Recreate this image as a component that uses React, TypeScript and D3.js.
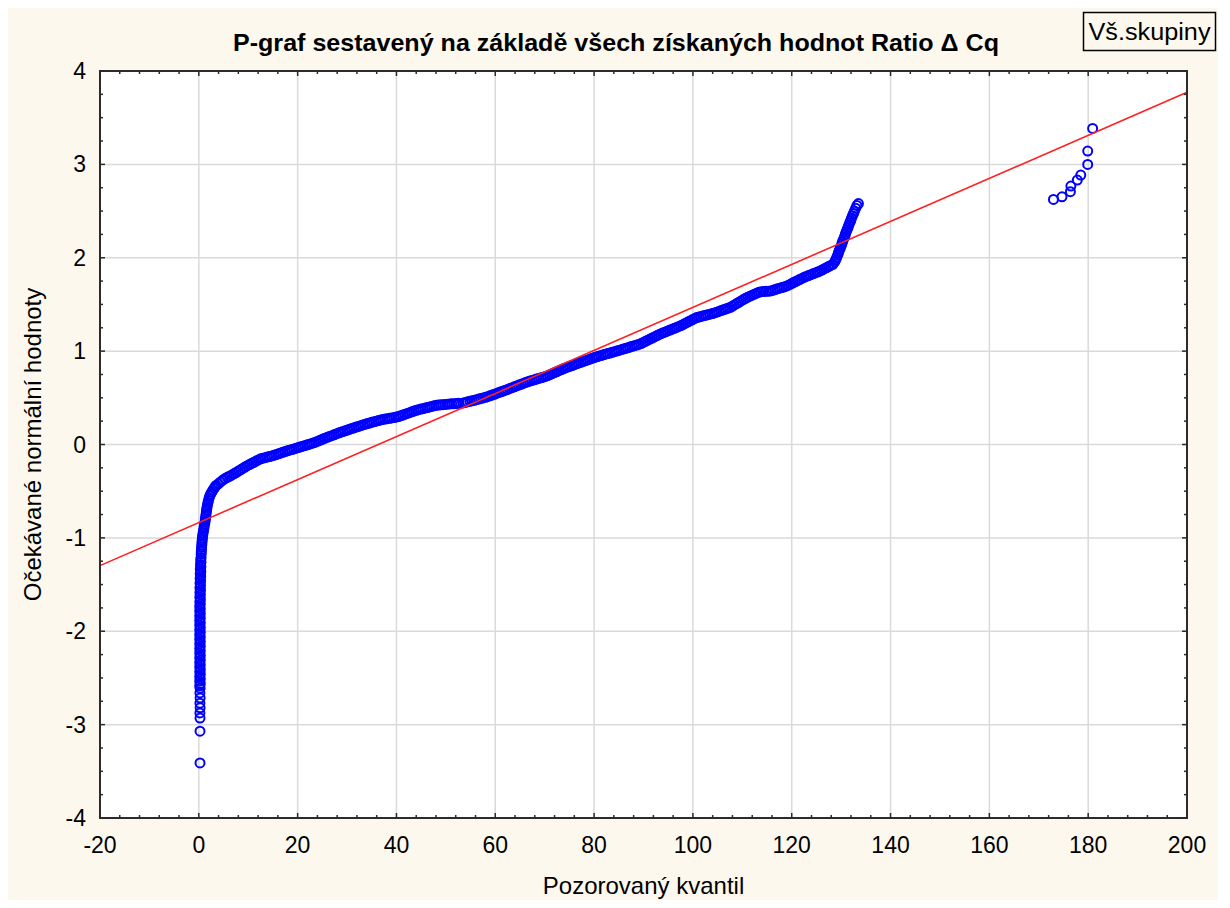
import React from "react";
import * as d3 from "d3";

// Axis ticks
const xTicks = [-20, 0, 20, 40, 60, 80, 100, 120, 140, 160, 180, 200];
const yTicks = [-4, -3, -2, -1, 0, 1, 2, 3, 4];

// Fitted normal line: expected = (observed - fitMean) / fitSd
const fitMean = 36.3;
const fitSd = 43.4;

// [observed quantile, expected normal value]
const lowOutliers: [number, number][] = [
  [0.24, -3.41], [0.24, -3.07],
];

const lowerTail: [number, number][] = [
  [0.24, -2.93], [0.22, -2.875], [0.26, -2.82], [0.22, -2.77], [0.26, -2.715], [0.22, -2.66], [0.26, -2.61],
  [0.18, -2.585], [0.3, -2.56], [0.18, -2.535], [0.3, -2.51], [0.18, -2.485], [0.3, -2.46], [0.18, -2.435],
  [0.3, -2.41], [0.18, -2.385], [0.3, -2.36], [0.18, -2.335], [0.3, -2.31], [0.18, -2.285], [0.3, -2.26],
  [0.18, -2.235], [0.3, -2.21], [0.18, -2.185], [0.3, -2.16], [0.18, -2.135], [0.3, -2.11], [0.18, -2.085],
  [0.3, -2.06], [0.18, -2.035], [0.3, -2.01], [0.18, -1.985], [0.3, -1.96], [0.18, -1.935], [0.3, -1.91],
  [0.18, -1.885], [0.3, -1.86], [0.18, -1.835], [0.3, -1.81], [0.18, -1.785], [0.3, -1.76], [0.18, -1.735],
  [0.3, -1.71], [0.2, -1.685], [0.32, -1.66], [0.2, -1.635], [0.32, -1.61], [0.22, -1.585], [0.34, -1.56],
  [0.22, -1.535], [0.34, -1.51], [0.24, -1.485], [0.36, -1.46], [0.26, -1.435], [0.38, -1.41], [0.28, -1.385],
  [0.4, -1.36], [0.3, -1.335], [0.42, -1.31], [0.34, -1.285], [0.44, -1.26], [0.38, -1.235], [0.46, -1.21],
];

const bend: [number, number][] = [
  [0.47, -1.175], [0.5, -1.15], [0.53, -1.125], [0.57, -1.1], [0.6, -1.075], [0.64, -1.05], [0.68, -1.025],
  [0.72, -1.0], [0.78, -0.975], [0.86, -0.95], [0.94, -0.925], [1.02, -0.9], [1.1, -0.875], [1.19, -0.85],
  [1.27, -0.825], [1.33, -0.8], [1.39, -0.775], [1.46, -0.75], [1.52, -0.725], [1.59, -0.7], [1.65, -0.675],
  [1.74, -0.65], [1.84, -0.625], [1.95, -0.6], [2.08, -0.575], [2.22, -0.55], [2.42, -0.53], [2.62, -0.51],
  [2.85, -0.49], [3.08, -0.47], [3.3, -0.452],
];

const bodyLow: [number, number][] = [
  [3.5, -0.438], [3.95, -0.421], [4.4, -0.401], [4.85, -0.381], [5.3, -0.365], [5.75, -0.352], [6.2, -0.34],
  [6.65, -0.327], [7.1, -0.314], [7.55, -0.3], [8.0, -0.285], [8.45, -0.271], [8.9, -0.256], [9.35, -0.241],
  [9.8, -0.227], [10.25, -0.215], [10.7, -0.202], [11.15, -0.19], [11.6, -0.177], [12.05, -0.165], [12.5, -0.153],
  [12.95, -0.147], [13.4, -0.141], [13.85, -0.135], [14.3, -0.129], [14.75, -0.122], [15.2, -0.116], [15.65, -0.108],
  [16.1, -0.1], [16.55, -0.092], [17.0, -0.084], [17.45, -0.076], [17.9, -0.068], [18.35, -0.061], [18.8, -0.054],
  [19.25, -0.047], [19.7, -0.04], [20.15, -0.032], [20.6, -0.025], [21.05, -0.018], [21.5, -0.011], [21.95, -0.004],
  [22.4, 0.004], [22.85, 0.011], [23.3, 0.019], [23.75, 0.028], [24.2, 0.038], [24.65, 0.048], [25.1, 0.058],
  [25.55, 0.068], [26.0, 0.077], [26.45, 0.086], [26.9, 0.095], [27.35, 0.104], [27.8, 0.113], [28.25, 0.122],
  [28.7, 0.13], [29.15, 0.138], [29.6, 0.146], [30.05, 0.155], [30.5, 0.163], [30.95, 0.171], [31.4, 0.179],
  [31.85, 0.187], [32.3, 0.194], [32.75, 0.202], [33.2, 0.209], [33.65, 0.217], [34.1, 0.224], [34.55, 0.23],
  [35.0, 0.237], [35.45, 0.244], [35.9, 0.25], [36.35, 0.257],
];

const bodyMid: [number, number][] = [
  [36.8, 0.263], [37.25, 0.268], [37.7, 0.272], [38.15, 0.276], [38.6, 0.28], [39.05, 0.285], [39.5, 0.289],
  [39.95, 0.294], [40.4, 0.3], [40.85, 0.308], [41.3, 0.316], [41.75, 0.325], [42.2, 0.333], [42.65, 0.341],
  [43.1, 0.35], [43.55, 0.358], [44.0, 0.366], [44.45, 0.373], [44.9, 0.379], [45.35, 0.384], [45.8, 0.39],
  [46.25, 0.396], [46.7, 0.402], [47.15, 0.408], [47.6, 0.414], [48.05, 0.42], [48.5, 0.423], [48.95, 0.425],
  [49.4, 0.427], [49.85, 0.429], [50.3, 0.432], [50.75, 0.434], [51.2, 0.436], [51.65, 0.437], [52.1, 0.439],
  [52.6, 0.441], [53.5, 0.445], [53.95, 0.451], [54.4, 0.457], [54.85, 0.462], [55.3, 0.468], [55.75, 0.474],
  [56.2, 0.48], [56.65, 0.486], [57.1, 0.493], [57.55, 0.499], [58.0, 0.505], [58.45, 0.512], [58.9, 0.521],
  [59.35, 0.53], [59.8, 0.538], [60.25, 0.547], [60.7, 0.556], [61.15, 0.564], [61.6, 0.573], [62.05, 0.582],
  [62.5, 0.59], [62.95, 0.6], [63.4, 0.609], [63.85, 0.618], [64.3, 0.627], [64.75, 0.636], [65.2, 0.645],
  [65.65, 0.654], [66.1, 0.663], [66.55, 0.672], [67.0, 0.679], [67.45, 0.686], [67.9, 0.693], [68.35, 0.701],
  [68.8, 0.708], [69.25, 0.714], [69.7, 0.721], [70.15, 0.729], [70.6, 0.737], [71.05, 0.748], [71.5, 0.758],
  [71.95, 0.769], [72.4, 0.779], [72.85, 0.79], [73.3, 0.8], [73.75, 0.811], [74.2, 0.82], [74.65, 0.829],
  [75.1, 0.838], [75.55, 0.846], [76.0, 0.855], [76.45, 0.864], [76.9, 0.873], [77.35, 0.881], [77.8, 0.89],
  [78.25, 0.898], [78.7, 0.906], [79.15, 0.914], [79.6, 0.923], [80.05, 0.931], [80.5, 0.939],
];

const bodyHigh: [number, number][] = [
  [80.95, 0.946], [81.4, 0.953], [81.85, 0.96], [82.3, 0.967], [82.75, 0.974], [83.2, 0.98], [83.65, 0.987],
  [84.1, 0.994], [84.55, 1.001], [85.0, 1.008], [85.45, 1.015], [85.9, 1.022], [86.35, 1.029], [86.8, 1.036],
  [87.25, 1.044], [87.7, 1.051], [88.15, 1.058], [88.6, 1.065], [89.05, 1.072], [89.5, 1.081], [89.95, 1.093],
  [90.4, 1.105], [90.85, 1.117], [91.3, 1.129], [91.75, 1.14], [92.2, 1.152], [92.65, 1.164], [93.1, 1.176],
  [93.55, 1.187], [94.0, 1.197], [94.45, 1.206], [94.9, 1.216], [95.35, 1.226], [95.8, 1.235], [96.25, 1.245],
  [96.7, 1.254], [97.15, 1.264], [97.6, 1.274], [98.05, 1.286], [98.5, 1.299], [98.95, 1.311], [99.4, 1.323],
  [99.85, 1.335], [100.3, 1.347], [100.75, 1.359], [101.2, 1.365], [101.65, 1.372], [102.1, 1.378], [102.55, 1.384],
  [103.0, 1.39], [103.45, 1.396], [103.9, 1.402], [104.35, 1.409], [104.8, 1.417], [105.25, 1.425], [105.7, 1.434],
  [106.15, 1.442], [106.6, 1.45], [107.05, 1.458], [107.5, 1.466], [107.95, 1.48], [108.4, 1.495], [108.85, 1.509],
  [109.3, 1.523], [109.75, 1.537], [110.2, 1.552], [110.65, 1.566], [111.1, 1.578], [111.55, 1.589], [112.0, 1.599],
  [112.45, 1.61], [112.9, 1.62], [113.35, 1.63], [113.8, 1.637], [114.3, 1.638], [114.8, 1.64], [115.3, 1.642],
  [115.75, 1.645], [116.2, 1.652], [116.65, 1.659], [117.1, 1.667], [117.55, 1.674], [118.0, 1.681], [118.45, 1.688],
  [118.9, 1.695], [119.35, 1.706], [119.8, 1.718], [120.25, 1.731], [120.7, 1.743], [121.15, 1.755], [121.6, 1.767],
  [122.05, 1.779], [122.5, 1.791], [122.95, 1.8], [123.4, 1.809], [123.85, 1.819], [124.3, 1.828], [124.75, 1.837],
  [125.2, 1.847], [125.65, 1.856], [126.1, 1.868], [126.55, 1.88], [127.0, 1.893], [127.45, 1.905], [127.9, 1.918],
  [128.35, 1.93],
];

const upperTail: [number, number][] = [
  [128.7, 1.955], [128.9, 1.978], [129.1, 2.002], [129.3, 2.028], [129.45, 2.052], [129.6, 2.076], [129.8, 2.1],
  [130.0, 2.125], [130.15, 2.15], [130.3, 2.175], [130.5, 2.2], [130.7, 2.225], [130.85, 2.25], [131.0, 2.275],
  [131.2, 2.3], [131.4, 2.325], [131.55, 2.35], [131.75, 2.375], [131.95, 2.4], [132.1, 2.425], [132.3, 2.45],
  [132.5, 2.475], [132.7, 2.5], [132.95, 2.53], [133.2, 2.56], [133.5, 2.58],
];

const highOutliers: [number, number][] = [
  [172.97, 2.625], [174.7, 2.653], [176.4, 2.707], [176.5, 2.768], [177.8, 2.832], [178.5, 2.885],
  [179.9, 3.0], [179.9, 3.142], [180.9, 3.385],
];

const FONT = "'Liberation Sans', Arial, sans-serif";

export default function App() {
  const W = 1230;
  const H = 908;
  const left = 100, right = 1187, top = 71, bottom = 818;

  const x = d3.scaleLinear().domain([-20, 200]).range([left, right]);
  const y = d3.scaleLinear().domain([-4, 4]).range([bottom, top]);

  const points = [
    ...lowOutliers, ...lowerTail, ...bend, ...bodyLow, ...bodyMid, ...bodyHigh, ...upperTail, ...highOutliers,
  ];

  const xMinor = d3.range(-20, 200.001, 4).filter((v) => Math.round(v) % 20 !== 0);
  const yMinor = d3.range(-4, 4.001, 0.25).filter((v) => Math.abs(v - Math.round(v)) > 1e-6);

  const fitLine = d3.line<number>()
    .x((v) => x(v))
    .y((v) => y((v - fitMean) / fitSd));

  const axisColor = "#2b2b2b";
  const gridColor = "#dadada";

  return (
    <svg
      width={W}
      height={H}
      style={{ position: "absolute", left: 0, top: 0, display: "block" }}
      fontFamily={FONT}
    >
      <rect x={0} y={0} width={W} height={H} fill="#ffffff" />
      <rect x={8} y={8} width={1210} height={892} fill="#fdf8ee" />

      {/* title */}
      <text
        x={616}
        y={51}
        textAnchor="middle"
        fontSize={24}
        fontWeight="bold"
        fill="#000"
        textLength={766}
        lengthAdjust="spacingAndGlyphs"
      >
        P-graf sestavený na základě všech získaných hodnot Ratio Δ Cq
      </text>

      {/* group legend box */}
      <rect x={1083.5} y={12.5} width={132} height={38} fill="#fdf8ee" stroke="#000" strokeWidth={1.5} />
      <text x={1149.5} y={40} textAnchor="middle" fontSize={23} fill="#000" textLength={122} lengthAdjust="spacingAndGlyphs">
        Vš.skupiny
      </text>

      {/* plot area */}
      <rect x={left} y={top} width={right - left} height={bottom - top} fill="#ffffff" />

      {/* grid */}
      {xTicks.slice(1, -1).map((t) => (
        <line key={"gx" + t} x1={x(t)} x2={x(t)} y1={top} y2={bottom} stroke={gridColor} strokeWidth={1.5} />
      ))}
      {yTicks.slice(1, -1).map((t) => (
        <line key={"gy" + t} x1={left} x2={right} y1={y(t)} y2={y(t)} stroke={gridColor} strokeWidth={1.5} />
      ))}

      {/* points */}
      <g fill="none" stroke="#0000ff" strokeWidth={2}>
        {points.map(([px, py], i) => (
          <circle key={i} cx={x(px)} cy={y(py)} r={4.5} />
        ))}
      </g>

      {/* fitted line */}
      <path d={fitLine([-20, 200]) || ""} fill="none" stroke="#ff2020" strokeWidth={1.6} />

      {/* frame */}
      <rect x={left} y={top} width={right - left} height={bottom - top} fill="none" stroke={axisColor} strokeWidth={2} />

      {/* ticks, pointing inward on all four sides */}
      <g stroke={axisColor} strokeWidth={1.5}>
        {xTicks.map((t) => (
          <g key={"tx" + t}>
            <line x1={x(t)} x2={x(t)} y1={bottom} y2={bottom - 5} />
            <line x1={x(t)} x2={x(t)} y1={top} y2={top + 5} />
          </g>
        ))}
        {xMinor.map((t) => (
          <g key={"mx" + t}>
            <line x1={x(t)} x2={x(t)} y1={bottom} y2={bottom - 3} />
            <line x1={x(t)} x2={x(t)} y1={top} y2={top + 3} />
          </g>
        ))}
        {yTicks.map((t) => (
          <g key={"ty" + t}>
            <line x1={left} x2={left + 5} y1={y(t)} y2={y(t)} />
            <line x1={right} x2={right - 5} y1={y(t)} y2={y(t)} />
          </g>
        ))}
        {yMinor.map((t) => (
          <g key={"my" + t}>
            <line x1={left} x2={left + 3} y1={y(t)} y2={y(t)} />
            <line x1={right} x2={right - 3} y1={y(t)} y2={y(t)} />
          </g>
        ))}
      </g>

      {/* tick labels */}
      <g fontSize={23} fill="#000">
        {xTicks.map((t) => (
          <text key={"lx" + t} x={x(t)} y={853} textAnchor="middle">{t}</text>
        ))}
        {yTicks.map((t) => (
          <text key={"ly" + t} x={86} y={y(t) + 8} textAnchor="end">{t}</text>
        ))}
      </g>

      {/* axis titles */}
      <text x={(left + right) / 2} y={894} textAnchor="middle" fontSize={24} fill="#000">
        Pozorovaný kvantil
      </text>
      <text
        transform={`translate(41, ${(top + bottom) / 2}) rotate(-90)`}
        textAnchor="middle"
        fontSize={24}
        fill="#000"
      >
        Očekávané normální hodnoty
      </text>
    </svg>
  );
}
